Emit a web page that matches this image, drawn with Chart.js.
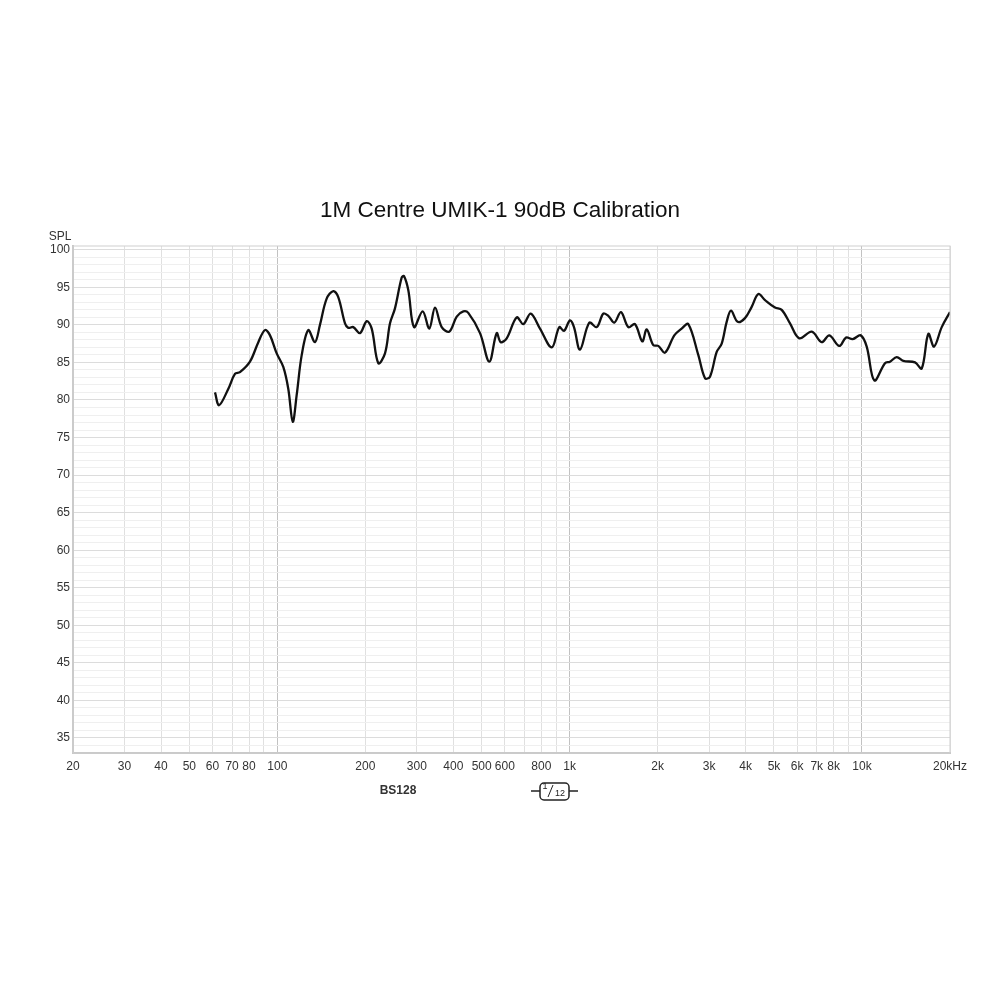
<!DOCTYPE html>
<html>
<head>
<meta charset="utf-8">
<script src="https://cdn.jsdelivr.net/npm/chart.js@4"></script>
<style>
  html, body { margin: 0; padding: 0; background: #fff; }
  #wrap { width: 1000px; height: 1000px; position: relative; }
</style>
</head>
<body>
<div id="wrap"><canvas id="spl"></canvas></div>
<script>
// frequency response (Hz, dB SPL)
const FREQ = [61.2, 63.2, 68.0, 71.7, 74.5, 80.6, 86.1, 90.7, 94.4, 99.5,
  104.8, 109.0, 112.9, 116.5, 121.2, 127.6, 134.5, 139.9, 147.5, 155.4,
  161.6, 170.4, 174.9, 181.9, 191.8, 202.2, 210.3, 221.5, 233.5, 242.9,
  252.6, 266.3, 271.2, 280.6, 293.4, 314.2, 331.0, 346.2, 365.0, 387.6,
  410.8, 432.7, 450.0, 493.6, 531.0, 562.8, 580.8, 609.0, 659.0, 694.2,
  735.8, 791.6, 868.0, 921.6, 956.4, 1002.6, 1034.6, 1084.8, 1167.2, 1237.4,
  1303.4, 1355.8, 1421.4, 1498.4, 1587, 1673, 1772, 1834.6, 1932, 2010,
  2119, 2280, 2416, 2546, 2754, 2904, 3020, 3184, 3312, 3444,
  3564, 3756, 3978, 4194, 4420, 4658, 5040, 5312, 5672, 6102,
  6730, 7280, 7730, 8362, 8816, 9294, 9900, 10378, 11020, 11984,
  12466, 13142, 13844, 15186, 16010, 16864, 17638, 18738, 20000];
const SPL = [81.0, 79.3, 81.5, 83.5, 83.7, 85.1, 87.7, 89.3, 88.6, 86.2,
  84.4, 81.5, 77.1, 80.7, 86.0, 89.3, 87.7, 90.0, 93.5, 94.5,
  93.7, 90.2, 89.6, 89.7, 88.9, 90.5, 89.5, 84.9, 86.2, 90.2,
  92.2, 96.3, 96.5, 94.6, 89.7, 91.8, 89.5, 92.3, 89.7, 89.1,
  91.1, 91.8, 91.6, 88.9, 85.1, 88.9, 87.7, 88.2, 91.0, 90.1,
  91.5, 89.5, 87.0, 89.7, 89.2, 90.6, 89.7, 86.7, 90.3, 89.7,
  91.5, 91.2, 90.3, 91.7, 89.7, 90.1, 87.8, 89.4, 87.3, 87.2,
  86.3, 88.6, 89.5, 90.1, 86.0, 82.9, 83.1, 86.4, 87.5, 90.4,
  91.9, 90.4, 90.9, 92.4, 94.1, 93.3, 92.3, 92.0, 90.2, 88.2,
  89.1, 87.7, 88.6, 87.2, 88.3, 88.1, 88.6, 87.1, 82.6, 84.9,
  85.1, 85.7, 85.2, 85.0, 84.2, 88.8, 87.1, 89.7, 91.7];

const X_TICKS = [20, 30, 40, 50, 60, 70, 80, 90, 100, 200, 300, 400, 500, 600, 700, 800, 900,
  1000, 2000, 3000, 4000, 5000, 6000, 7000, 8000, 9000, 10000, 20000];
const X_LABELS = ['20', '30', '40', '50', '60', '70', '80', '', '100', '200', '300', '400', '500', '600', '', '800', '',
  '1k', '2k', '3k', '4k', '5k', '6k', '7k', '8k', '', '10k', '20kHz'];
const Y_TICKS = [33, 34, 35, 36, 37, 38, 39, 40, 41, 42, 43, 44, 45, 46, 47, 48, 49, 50,
  51, 52, 53, 54, 55, 56, 57, 58, 59, 60, 61, 62, 63, 64, 65, 66, 67, 68, 69, 70,
  71, 72, 73, 74, 75, 76, 77, 78, 79, 80, 81, 82, 83, 84, 85, 86, 87, 88, 89, 90,
  91, 92, 93, 94, 95, 96, 97, 98, 99, 100];

const FONT = "'Liberation Sans', Arial, Helvetica, sans-serif";

const textPlugin = {
  id: 'texts',
  afterDraw(chart) {
    const c = chart.ctx;
    const a = chart.chartArea;
    c.save();
    // frame
    c.strokeStyle = '#cfcfcf';
    c.lineWidth = 1;
    c.strokeRect(a.left, a.top, a.right - a.left, a.bottom - a.top);
    c.fillStyle = '#111';
    c.textAlign = 'center';
    c.textBaseline = 'middle';
    c.font = '22.5px ' + FONT;
    c.fillText('1M Centre UMIK-1 90dB Calibration', 500, 211);
    c.fillStyle = '#333';
    c.font = '12px ' + FONT;
    c.fillText('SPL', 60, 237);
    c.font = 'bold 12px ' + FONT;
    c.fillText('BS128', 398, 791);
    // 1/12 smoothing badge
    c.strokeStyle = '#222';
    c.lineWidth = 1.5;
    c.beginPath();
    c.moveTo(531, 791); c.lineTo(540, 791);
    c.moveTo(569, 791); c.lineTo(578, 791);
    c.stroke();
    c.beginPath();
    c.roundRect(540, 783, 29, 17, 4);
    c.stroke();
    c.lineWidth = 1;
    c.beginPath();
    c.moveTo(548, 797); c.lineTo(553, 785);
    c.stroke();
    c.fillStyle = '#222';
    c.font = '9px ' + FONT;
    c.fillText('1', 545, 787);
    c.fillText('12', 560, 794);
    c.restore();
  }
};

new Chart(document.getElementById('spl'), {
  type: 'line',
  data: {
    datasets: [{
      data: FREQ.map((f, i) => ({ x: f, y: SPL[i] })),
      borderColor: '#111',
      borderWidth: 2.3,
      pointRadius: 0,
      tension: 0.35,
      fill: false,
    }],
  },
  options: {
    responsive: true,
    maintainAspectRatio: false,
    animation: false,
    layout: { padding: { left: 0, right: 50, top: 246, bottom: 217 } },
    plugins: { legend: { display: false }, tooltip: { enabled: false } },
    scales: {
      x: {
        type: 'logarithmic',
        min: 20,
        max: 20000,
        afterBuildTicks: (s) => { s.ticks = X_TICKS.map(v => ({ value: v })); },
        afterFit: (s) => { s.height = 30; },
        ticks: {
          autoSkip: false,
          maxRotation: 0,
          padding: 6,
          color: '#333',
          font: { family: FONT, size: 12 },
          callback: (v, i) => X_LABELS[i],
        },
        grid: {
          drawTicks: false,
          color: (ctx) => ctx.tick && [100, 1000, 10000].includes(ctx.tick.value) ? '#c2c2c2' : '#e0e0e0',
          lineWidth: 1,
        },
        border: { display: true, color: '#c6c6c6', width: 2 },
      },
      y: {
        min: 33,
        max: 100.5,
        afterBuildTicks: (s) => { s.ticks = Y_TICKS.map(v => ({ value: v })); },
        afterFit: (s) => { s.width = 73; },
        ticks: {
          autoSkip: false,
          padding: 3,
          color: '#333',
          font: { family: FONT, size: 12 },
          callback: (v) => (v % 5 === 0 ? String(v) : ''),
        },
        grid: {
          drawTicks: false,
          color: (ctx) => ctx.tick && ctx.tick.value % 5 === 0 ? '#dcdcdc' : '#efefef',
          lineWidth: 1,
        },
        border: { display: true, color: '#c6c6c6', width: 2 },
      },
    },
  },
  plugins: [textPlugin],
});
</script>
</body>
</html>
